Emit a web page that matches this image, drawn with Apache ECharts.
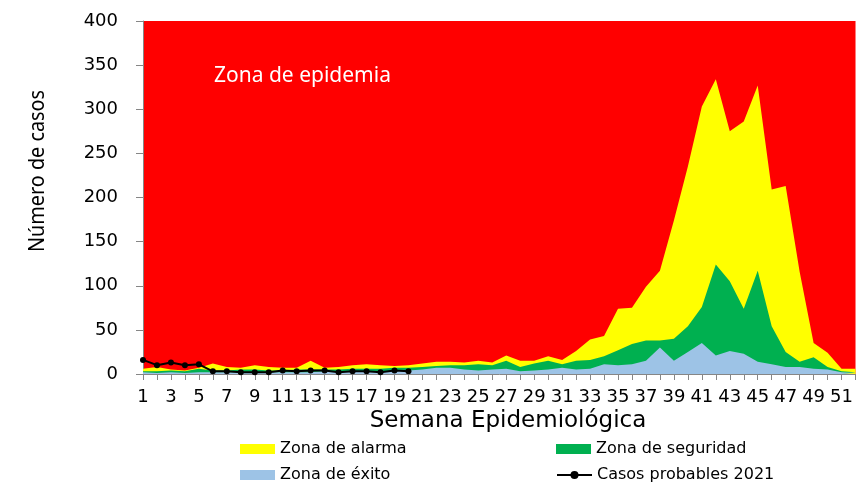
<!DOCTYPE html>
<html>
<head>
<meta charset="utf-8">
<script src="https://cdn.jsdelivr.net/npm/echarts@6/dist/echarts.min.js"></script>
<style>
  html, body { margin: 0; padding: 0; background: #fff; }
  #chart { width: 856px; height: 482px; }
</style>
</head>
<body>
<div id="chart"></div>
<script>
// semanas epidemiológicas 1..52
const semanas = ['1','2','3','4','5','6','7','8','9','10','11','12','13','14','15','16','17','18','19','20',
  '21','22','23','24','25','26','27','28','29','30','31','32','33','34','35','36','37','38','39','40',
  '41','42','43','44','45','46','47','48','49','50','51','52'];

// zona de alarma (límite superior del canal)
const zonaAlarma = [6, 8, 5, 4, 7, 12, 8, 7, 10, 8, 7, 7, 15, 7, 8, 10, 11, 10, 9, 10,
  12, 14, 14, 13, 15, 13, 21, 15, 15, 20, 16, 26, 39, 43, 74, 75, 99, 117, 174, 235,
  303, 334, 275, 286, 327, 209, 213, 116, 35, 24, 6, 6];

// zona de seguridad
const zonaSeguridad = [3, 3, 4, 3, 6, 4, 4, 5, 5, 4, 4, 5, 5, 5, 5, 6, 6, 6, 7, 7,
  8, 9, 10, 10, 11, 10, 15, 8, 12, 15, 11, 15, 16, 20, 27, 34, 38, 38, 40, 54,
  76, 124, 105, 74, 117, 54, 25, 14, 19, 8, 3, 2];

// zona de éxito
const zonaExito = [2, 1, 2, 1, 2, 2, 2, 2, 2, 2, 2, 2, 2, 3, 3, 3, 3, 3, 3, 4,
  5, 7, 7, 5, 4, 5, 6, 3, 4, 5, 7, 5, 6, 11, 10, 11, 15, 30, 15, 25,
  35, 21, 26, 23, 14, 11, 8, 8, 6, 5, 2, 1];

// casos probables 2021 (hasta la semana 20)
const casos2021 = [16, 10, 13, 10, 11, 3, 3, 2, 2, 2, 4, 3, 4, 4, 2, 3, 3, 2, 4, 3];

const yTicks = { min: 0, max: 400, interval: 50 };

const chart = echarts.init(document.getElementById('chart'));

const areaSerie = (name, data, color) => ({
  name: name,
  type: 'line',
  data: data,
  symbol: 'none',
  lineStyle: { width: 0 },
  itemStyle: { color: color },
  areaStyle: { color: color, opacity: 1 },
  animation: false
});

const legendItem = (name, icon, left, top) => ({
  data: [icon ? { name: name, icon: icon } : name],
  left: left,
  top: top,
  padding: 0,
  itemWidth: 35,
  itemHeight: 10,
  selectedMode: false,
  textStyle: { fontFamily: 'DejaVu Sans', fontSize: 16, color: '#000' }
});

const option = {
  animation: false,
  grid: {
    left: 143,
    top: 21,
    width: 722,
    bottom: 108,
    show: true,
    backgroundColor: '#FF0000',
    borderWidth: 0
  },
  title: {
    text: 'Zona de epidemia',
    left: 214,
    top: 66,
    padding: 0,
    textStyle: { color: '#fff', fontFamily: 'Noto Sans', fontSize: 21, fontWeight: 'normal' }
  },
  legend: [
    legendItem('Zona de alarma', 'rect', 240, 441),
    legendItem('Zona de seguridad', 'rect', 556, 441),
    legendItem('Zona de éxito', 'rect', 240, 467),
    legendItem('Casos probables 2021', null, 556, 467)
  ],
  xAxis: {
    type: 'category',
    data: semanas,
    boundaryGap: false,
    axisLine: { lineStyle: { color: '#868686', width: 1 } },
    axisTick: { interval: 0, length: 6, lineStyle: { color: '#868686' } },
    axisLabel: {
      interval: 1,
      margin: 14,
      color: '#000',
      fontFamily: 'DejaVu Sans',
      fontSize: 18
    },
    splitLine: { show: false }
  },
  yAxis: {
    type: 'value',
    min: yTicks.min,
    max: yTicks.max,
    interval: yTicks.interval,
    axisLine: { show: true, lineStyle: { color: '#868686', width: 1 } },
    axisTick: { show: true, length: 7, lineStyle: { color: '#868686' } },
    axisLabel: {
      margin: 25,
      color: '#000',
      fontFamily: 'DejaVu Sans',
      fontSize: 18
    },
    splitLine: { show: false }
  },
  graphic: [
    {
      type: 'text',
      x: 38,
      y: 171,
      rotation: Math.PI / 2,
      scaleX: 0.9,
      style: {
        text: 'Número de casos',
        fontFamily: 'Noto Sans',
        fontSize: 22,
        fill: '#000',
        textAlign: 'center',
        textVerticalAlign: 'middle'
      }
    },
    {
      type: 'text',
      x: 508,
      y: 421,
      style: {
        text: 'Semana Epidemiológica',
        fontFamily: 'DejaVu Sans',
        fontSize: 23,
        fill: '#000',
        textAlign: 'center',
        textVerticalAlign: 'middle'
      }
    }
  ],
  series: [
    areaSerie('Zona de alarma', zonaAlarma, '#FFFF00'),
    areaSerie('Zona de seguridad', zonaSeguridad, '#00B050'),
    areaSerie('Zona de éxito', zonaExito, '#9DC3E6'),
    {
      name: 'Casos probables 2021',
      type: 'line',
      data: casos2021,
      symbol: 'circle',
      symbolSize: 6,
      itemStyle: { color: '#000' },
      lineStyle: { color: '#000', width: 2 },
      animation: false
    }
  ]
};

chart.setOption(option);
</script>
</body>
</html>
